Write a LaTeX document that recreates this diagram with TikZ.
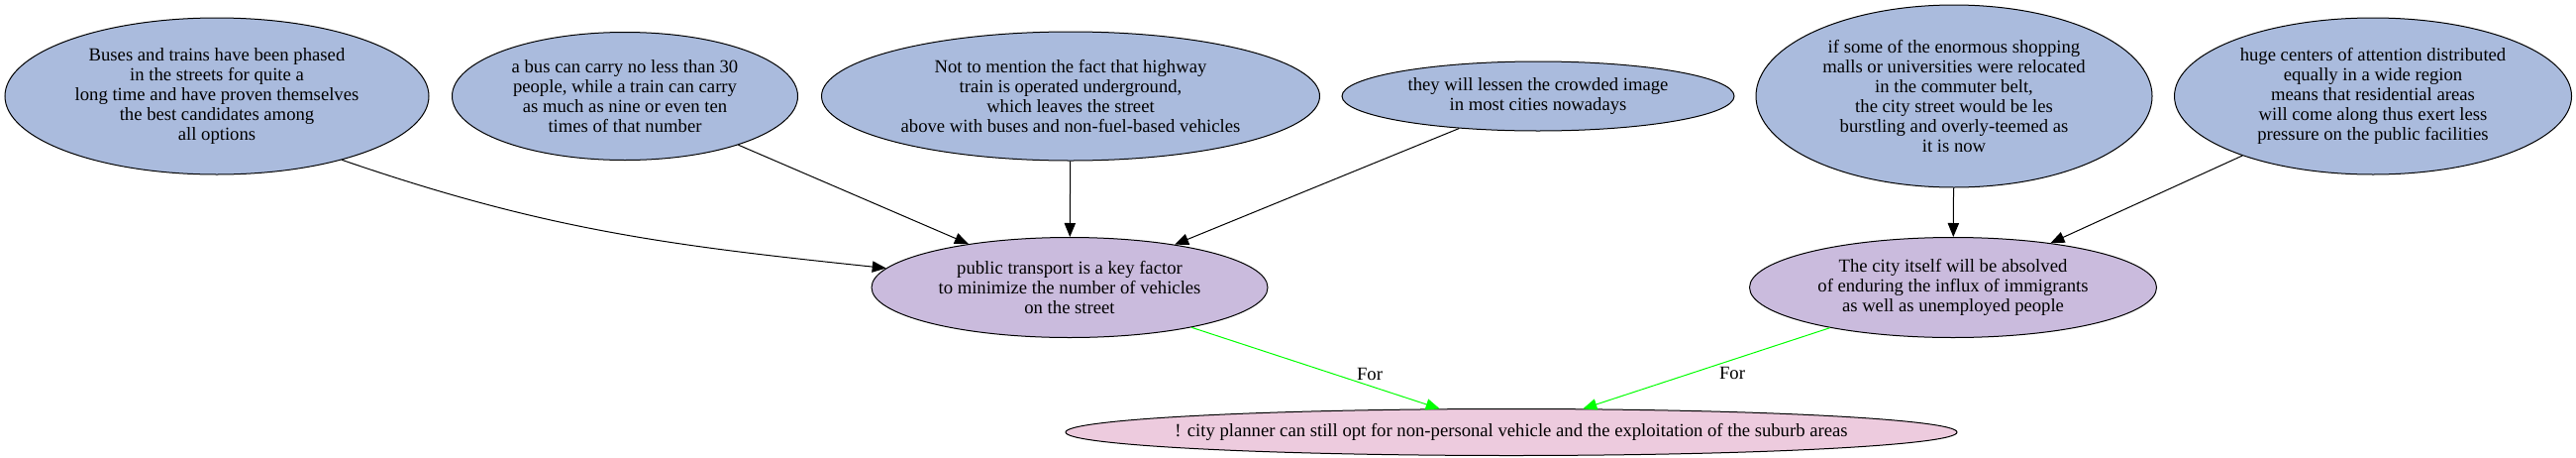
\documentclass[tikz,border=0pt]{standalone}
\usepackage{fontspec}
\setmainfont{Liberation Serif}
\usetikzlibrary{shapes.geometric,arrows.meta}
\definecolor{premisefill}{RGB}{170,187,221}
\definecolor{reasonfill}{RGB}{202,187,221}
\definecolor{claimfill}{RGB}{237,203,222}
\definecolor{forgreen}{RGB}{0,255,0}

\begin{document}
\begin{tikzpicture}[x=0.75pt, y=-0.75pt, >={Triangle[length=10.5pt,width=8.5pt]}, line width=0.75pt,
    every node/.style={font=\fontsize{14}{15}\selectfont, align=center},
    arg/.style={ellipse, draw, inner sep=0pt},
    premise/.style={arg, fill=premisefill},
    reason/.style={arg, fill=reasonfill},
    claim/.style={arg, fill=claimfill, inner xsep=-16pt}]
        \useasboundingbox (0,0) rectangle (2601,461);
		\node[premise, minimum width=321pt, minimum height=118.5pt] (1) at (219,97) {Buses and trains have been phased\\in the streets for quite a\\long time and have proven themselves\\the best candidates among\\all options};
		\node[premise, minimum width=261.75pt, minimum height=96.75pt] (2) at (631,97) {a bus can carry no less than 30\\people, while a train can carry\\as much as nine or even ten\\times of that number};
		\node[premise, minimum width=377.25pt, minimum height=97.5pt] (3) at (1081,97) {Not to mention the fact that highway\\train is operated underground,\\which leaves the street\\above with buses and non-fuel-based vehicles};
		\node[premise, minimum width=297pt, minimum height=52.5pt] (4) at (1553,97) {they will lessen the crowded image\\in most cities nowadays};
		\node[premise, minimum width=300pt, minimum height=138pt] (5) at (1973,97) {if some of the enormous shopping\\malls or universities were relocated\\in the commuter belt,\\the city street would be les\\burstling and overly-teemed as\\it is now};
		\node[premise, minimum width=300.75pt, minimum height=118.5pt] (6) at (2396,97) {huge centers of attention distributed\\equally in a wide region\\means that residential areas\\will come along thus exert less\\pressure on the public facilities};
		\node[reason, minimum width=300pt, minimum height=75.75pt] (7) at (1080,290) {public transport is a key factor\\to minimize the number of vehicles\\on the street};
		\node[reason, minimum width=308.25pt, minimum height=75.75pt] (8) at (1972,290) {The city itself will be absolved\\of enduring the influx of immigrants\\as well as unemployed people};
		\node[claim, minimum width=666pt, minimum height=35.25pt] (9) at (1526,436) {! city planner can still opt for non-personal vehicle and the exploitation of the suburb areas};
		\node (10) at (1383,377) {For};
		\node (11) at (1749,376) {For};
		\draw[->] (1.-27) to[out=-19, in=174] (7.174);
		\draw[->] (2) to (7);
		\draw[->] (3) to (7);
		\draw[->] (4) to (7);
		\draw[->] (5) to (8);
		\draw[->] (6) to (8);
		\draw[->, forgreen] (7) to (9);
		\draw[->, forgreen] (8) to (9);
    \end{tikzpicture}
\end{document}
